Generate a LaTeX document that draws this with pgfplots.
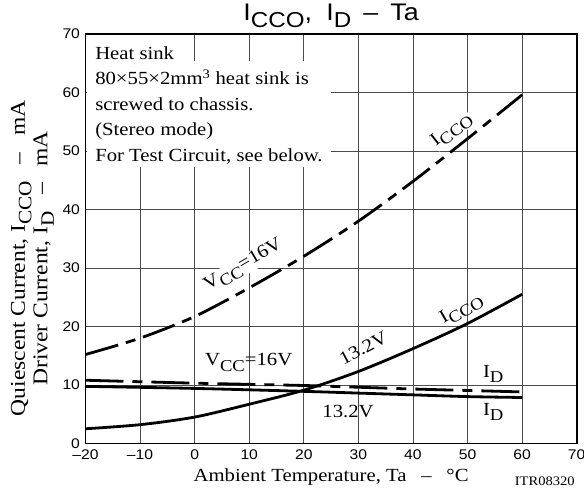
\documentclass[border=0pt]{standalone}
\usepackage{fontspec}
\setmainfont[FakeStretch=1.12]{Liberation Serif}
\newfontfamily\sansf[FakeStretch=1.12]{Liberation Sans}
\usepackage{graphicx}
\usepackage{pgfplots}
\pgfplotsset{compat=1.18}
% lowered subscript as in the data sheet (same font, slightly smaller)
\newcommand\sub[1]{\raisebox{-0.3em}{\scalebox{0.9}{#1}}}
\newcommand\txt{\fontsize{18.5}{25}\selectfont}
\newcommand\dash{\hspace{0.8em}\textendash\hspace{0.8em}}

\begin{document}
\begin{tikzpicture}[x=1pt,y=1pt]
\useasboundingbox (0,0) rectangle (584,495);
\begin{axis}[
    at={(85.5pt,51.6pt)}, anchor=south west,
    scale only axis,
    width=491.2pt, height=409.4pt,
    xmin=-20, xmax=70, ymin=0, ymax=70,
    xtick={-20,-10,...,70},
    xticklabels={\textendash20,\textendash10,0,10,20,30,40,50,60,70},
    ytick={0,10,...,70},
    grid=major,
    major grid style={line width=0.8pt, black!70},
    axis line style={line width=1.6pt},
    major tick length=0pt,
    tick label style={font=\sansf\fontsize{14}{14}\selectfont},
    /pgf/number format/assume math mode=true,
    xticklabel style={yshift=-3pt},
    yticklabel style={xshift=-2pt},
    xlabel={Ambient Temperature, Ta\dash °C},
    xlabel style={at={(axis description cs:0.5,-0.082)}, anchor=center, font=\txt},
    ylabel={Quiescent Current, I\sub{CCO}\dash mA\\Driver Current, I\sub{D}\dash mA},
    ylabel style={at={(axis description cs:-0.108,0.452)}, anchor=center,
        align=center, font=\fontsize{21}{22.5}\selectfont},
    title={I\sub{CCO},\hspace{0.6em}I\sub{D}\hspace{0.5em}\textendash\hspace{0.5em}Ta},
    title style={at={(axis description cs:0.5,1.019)}, anchor=base,
        font=\sansf\fontsize{24}{24}\selectfont},
    clip=false,
]
% white area behind the note
\fill[white] (axis cs:-19.8,69.8) rectangle (axis cs:-3,65.4);
\fill[white] (axis cs:-19.8,65.4) rectangle (axis cs:25,47.3);

% ICCO, VCC=16V
\addplot[black, line width=2.8pt, smooth, dash pattern=on 34pt off 8pt on 10pt off 8pt]
    coordinates {(-20,15.2) (-10,18.0) (0,21.7) (10,26.6) (20,32.0) (30,38.0) (40,44.8) (50,52.1) (60,59.6)};
% ICCO, 13.2V
\addplot[black, line width=2.8pt, smooth]
    coordinates {(-20,2.5) (-10,3.2) (0,4.5) (10,6.7) (20,9.1) (30,12.3) (40,16.2) (50,20.5) (60,25.5)};
% ID, VCC=16V
\addplot[black, line width=2.8pt, smooth, dash pattern=on 38pt off 9pt on 10pt off 9pt]
    coordinates {(-20,10.8) (0,10.3) (20,9.9) (30,9.6) (40,9.3) (50,9.05) (60,8.8)};
% ID, 13.2V
\addplot[black, line width=2.8pt, smooth]
    coordinates {(-20,9.75) (0,9.4) (20,8.9) (30,8.6) (40,8.3) (50,8.0) (60,7.85)};

% note
\node[font=\txt, anchor=base west] at (axis cs:-18.86,65.58) {Heat sink};
\node[font=\txt, anchor=base west] at (axis cs:-18.86,61.29) {80×55×2mm\textsuperscript{3} heat sink is};
\node[font=\txt, anchor=base west] at (axis cs:-18.86,57.0) {screwed to chassis.};
\node[font=\txt, anchor=base west] at (axis cs:-18.86,52.6) {(Stereo mode)};
\node[font=\txt, anchor=base west] at (axis cs:-18.86,48.2) {For Test Circuit, see below.};

% curve labels
\node[font=\txt, rotate=38, fill=white, inner sep=0.5pt] at (axis cs:47.1,53.6) {I\sub{CCO}};
\node[font=\txt, rotate=30, fill=white, inner sep=0.5pt] at (axis cs:9.0,30.4) {V\sub{CC}=16V};
\node[font=\txt] at (axis cs:9.9,13.8) {V\sub{CC}=16V};
\node[font=\txt, rotate=28] at (axis cs:30.9,16.3) {13.2V};
\node[font=\txt, rotate=30] at (axis cs:48.9,22.9) {I\sub{CCO}};
\node[font=\txt] at (axis cs:54.7,11.9) {I\sub{D}};
\node[font=\txt] at (axis cs:28.1,5.45) {13.2V};
\node[font=\txt] at (axis cs:54.7,5.4) {I\sub{D}};

\node[font=\fontsize{13}{13}\selectfont] at (axis description cs:0.935,-0.0936) {ITR08320};
\end{axis}
\end{tikzpicture}
\end{document}
